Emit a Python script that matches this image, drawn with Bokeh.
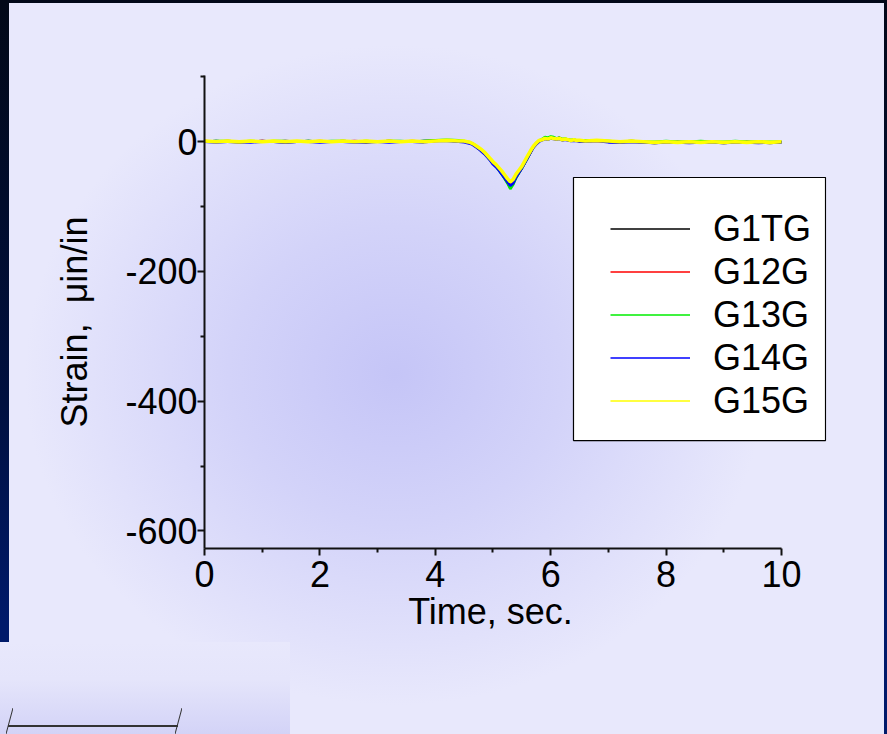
from bokeh.plotting import figure
from bokeh.models import FixedTicker, Legend, LegendItem, BoxAnnotation
from bokeh.embed import file_html
from bokeh.resources import INLINE

# ---------------- data ----------------
time_s = ([0.0, 0.2, 0.4, 0.6, 0.8, 1.0, 1.2, 1.4, 1.6, 1.8, 2.0, 2.2, 2.4, 2.6, 2.8, 3.0,
           3.2, 3.4, 3.6, 3.8, 4.0, 4.2, 4.4]
          + [4.50, 4.55, 4.60, 4.65, 4.70, 4.75, 4.80, 4.85, 4.90, 4.95,
             5.00, 5.05, 5.10, 5.15, 5.20, 5.25, 5.30, 5.35, 5.40, 5.45,
             5.50, 5.55, 5.60, 5.65, 5.70, 5.75, 5.80, 5.85, 5.90, 5.95,
             6.00, 6.05, 6.10, 6.15, 6.20, 6.25, 6.30, 6.35, 6.40, 6.45, 6.50]
          + [6.6, 6.8, 7.0, 7.2, 7.4, 7.6, 7.8, 8.0, 8.2, 8.4, 8.6, 8.8, 9.0, 9.2, 9.4,
             9.6, 9.8, 10.0])

g1tg = ([0, 1, 0, -1, 0, 1, 0, -1, 0, 1, 0, 0, 1, 0, -1, 0, 1, 0, 0, 1, 2, 2, 0]
        + [0, -1, -2, -4, -7, -11, -14, -18, -23, -28, -34, -38, -43, -49, -56, -63, -71, -65, -55, -48,
           -41, -33, -25, -17, -9, -3, 1, 3, 6, 5, 7, 6, 5, 6, 4, 4, 3, 2, 3, 2, 1]
        + [1, 2, 0, -1, 0, -1, -2, -1, 0, -1, 0, -1, -2, -1, 0, -1, -2, -1])

g12g = ([1, 0, 1, 0, 0, 1, 0, 1, 0, 0, 1, 0, 0, 1, 0, 0, 1, 0, 1, 0, 1, 2, 1]
        + [0, -1, -2, -4, -7, -10, -13, -17, -22, -27, -33, -37, -42, -48, -54, -61, -68, -63, -54, -47,
           -40, -32, -24, -16, -8, -3, 1, 3, 5, 4, 6, 5, 4, 5, 3, 4, 3, 2, 2, 2, 1]
        + [1, 1, 0, 0, 1, 0, -1, 0, -1, 0, -1, 0, -1, 0, -1, 0, -1, 0])

g13g = ([0, 1, 1, 0, 1, 0, 1, 1, 0, 1, 0, 1, 1, 0, 1, 0, 1, 1, 0, 1, 2, 3, 2]
        + [1, 0, -1, -3, -6, -10, -14, -18, -23, -28, -33, -38, -44, -50, -57, -64, -73, -66, -56, -48,
           -41, -33, -25, -16, -8, -2, 2, 4, 7, 6, 8, 7, 5, 6, 4, 5, 3, 3, 3, 2, 2]
        + [2, 2, 1, 0, 1, 0, 0, 1, 0, 0, 1, 0, 0, 1, 0, 0, 0, 0])

g14g = ([0, -1, 0, 0, -1, 0, 0, -1, 0, 0, -1, 0, 0, -1, 0, 0, -1, 0, 0, -1, 1, 1, 0]
        + [-1, -2, -3, -5, -8, -11, -15, -19, -24, -29, -35, -39, -44, -50, -56, -62, -68, -64, -55, -48,
           -41, -33, -25, -17, -9, -4, 0, 2, 4, 3, 5, 4, 3, 4, 2, 3, 2, 1, 1, 1, 0]
        + [0, 1, -1, -1, 0, -1, -2, -1, -1, -2, -1, -1, -2, -1, -1, -2, -1, -1])

g15g = ([1, 0, 1, 0, 1, 0, 1, 0, 1, 0, 1, 0, 1, 0, 1, 0, 1, 0, 1, 0, 1, 2, 1]
        + [1, 0, -1, -3, -6, -9, -12, -16, -21, -26, -31, -35, -40, -45, -51, -57, -62, -58, -50, -44,
           -38, -30, -22, -14, -7, -2, 2, 3, 5, 4, 6, 5, 4, 5, 3, 4, 3, 2, 3, 2, 2]
        + [1, 2, 1, 0, 1, 0, -1, 0, -1, 0, -1, 0, -1, 0, -1, 0, -1, 0])

series_names = ["G1TG", "G12G", "G13G", "G14G", "G15G"]
series_values = [g1tg, g12g, g13g, g14g, g15g]
series_colors = ["#000000", "#ff0000", "#00ee00", "#0000ff", "#ffff00"]

x_ticks = [0, 2, 4, 6, 8, 10]
x_minor = [1, 3, 5, 7, 9]
x_tick_labels = ["0", "2", "4", "6", "8", "10"]
y_ticks = [-600, -400, -200, 0]
y_minor = [-500, -300, -100, 100]
y_tick_labels = ["-600", "-400", "-200", "0"]

FONT = "Liberation Sans"
NBSP = "\u00a0"

# ---------------- figure ----------------
# frame reaches a little past x=10 so the legend box fits; axes are bounded to the data window
p = figure(width=887, height=734, x_range=(0, 10.78), y_range=(-627, 102),
           output_backend="svg", toolbar_location=None,
           min_border_left=204, min_border_right=61,
           min_border_top=75, min_border_bottom=186)

dline = "#333333"
bg = ",".join([
    # slanted end strokes and bar of the cut-off drawing in the lower-left corner
    f"linear-gradient(to top left,transparent calc(50% - 1px),{dline} 50%,transparent calc(50% + 1px)) 6px 708px/7px 26px no-repeat",
    f"linear-gradient(to top left,transparent calc(50% - 1px),{dline} 50%,transparent calc(50% + 1px)) 175px 708px/7px 26px no-repeat",
    f"linear-gradient({dline},{dline}) 8px 725px/170px 2px no-repeat",
    "linear-gradient(180deg,#e8e8fc 0%,#e5e5fb 40%,#d3d3f7 100%) 0px 642px/290px 92px no-repeat",
    "radial-gradient(ellipse 370px 330px at 386px 372px,#c5c5f7 0%,#d3d3f9 45%,#e8e8fc 100%) 9px 3px/875px 731px no-repeat",
    "linear-gradient(#e8e8fc,#e8e8fc) 0px 642px/9px 92px no-repeat",
    "linear-gradient(180deg,#020818 0%,#001040 55%,#001a6a 85%)",
])
p.styles = {"background": bg}
p.border_fill_color = None
p.background_fill_color = None
p.outline_line_color = None
p.xgrid.visible = False
p.ygrid.visible = False

for ax in (p.xaxis[0], p.yaxis[0]):
    ax.axis_line_color = "#111111"
    ax.axis_line_width = 2
    ax.major_tick_line_color = "#111111"
    ax.major_tick_line_width = 2
    ax.minor_tick_line_color = "#111111"
    ax.minor_tick_line_width = 2
    ax.major_tick_in = 0
    ax.major_tick_out = 7
    ax.minor_tick_in = 0
    ax.minor_tick_out = 4
    ax.major_label_text_font = FONT
    ax.major_label_text_font_size = "36px"
    ax.major_label_text_color = "#000000"
    ax.axis_label_text_font = FONT
    ax.axis_label_text_font_size = "36px"
    ax.axis_label_text_font_style = "normal"
    ax.axis_label_text_color = "#000000"

p.xaxis.bounds = (0, 10)
p.xaxis.ticker = FixedTicker(ticks=x_ticks, minor_ticks=x_minor)
p.yaxis.ticker = FixedTicker(ticks=y_ticks, minor_ticks=y_minor)
p.xaxis.major_label_overrides = {t: l for t, l in zip(x_ticks, x_tick_labels)}
p.yaxis.major_label_overrides = {t: l for t, l in zip(y_ticks, y_tick_labels)}
# trailing no-break spaces keep the labels centred on the bounded axes, as in the original
p.xaxis.axis_label = "Time, sec." + NBSP * 5
p.yaxis.axis_label = "Strain, " + NBSP + "\u03bcin/in" + NBSP * 2
p.xaxis.major_label_standoff = 5
p.yaxis.major_label_standoff = 0
p.xaxis.axis_label_standoff = 1
p.yaxis.axis_label_standoff = 27

widths = [2.4, 2.4, 2.6, 2.6, 3.6]
for name, vals, col, w in zip(series_names, series_values, series_colors, widths):
    p.line(time_s, vals, line_color=col, line_width=w)

# thin stand-ins (single point, so nothing drawn) used only for the legend samples
legend_renderers = [p.line(time_s[:1], vals[:1], line_color=col, line_width=1.6)
                    for vals, col in zip(series_values, series_colors)]

# legend frame
box = BoxAnnotation(left=6.395, right=10.763, top=-55.2, bottom=-460.6,
                    fill_color="white", fill_alpha=1, line_color="#000000",
                    line_alpha=1, line_width=1.2)
p.add_layout(box)

legend = Legend(items=[LegendItem(label=n, renderers=[r]) for n, r in zip(series_names, legend_renderers)],
                location=(406, 126), background_fill_alpha=0, border_line_color=None,
                padding=0, margin=0, spacing=0, glyph_width=80, glyph_height=43,
                label_height=43, label_standoff=23,
                label_text_font=FONT, label_text_font_size="36px", label_text_color="#000000")
p.add_layout(legend)

open("out.html", "w").write(file_html(p, INLINE))
